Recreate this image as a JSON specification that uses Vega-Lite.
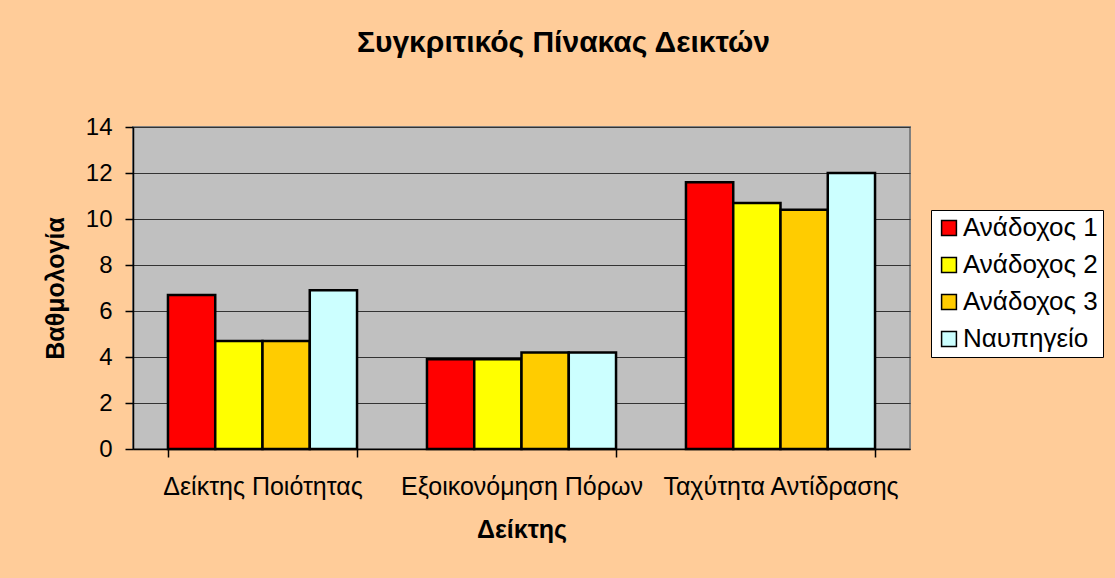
{
  "$schema": "https://vega.github.io/schema/vega-lite/v6.json",
  "width": 777,
  "height": 322,
  "autosize": {"type": "none"},
  "padding": {"left": 133, "top": 127, "right": 205, "bottom": 129},
  "background": "#FFCC99",
  "title": {
    "text": "Συγκριτικός Πίνακας Δεικτών",
    "font": "Liberation Sans",
    "fontSize": 30,
    "fontWeight": "bold",
    "color": "#000000",
    "anchor": "middle",
    "frame": "group",
    "dx": 42,
    "offset": 57
  },
  "data": {
    "values": [
      {"index": "Δείκτης Ποιότητας", "series": "Ανάδοχος 1", "value": 6.7},
      {"index": "Δείκτης Ποιότητας", "series": "Ανάδοχος 2", "value": 4.7},
      {"index": "Δείκτης Ποιότητας", "series": "Ανάδοχος 3", "value": 4.7},
      {"index": "Δείκτης Ποιότητας", "series": "Ναυπηγείο", "value": 6.9},
      {"index": "Εξοικονόμηση Πόρων", "series": "Ανάδοχος 1", "value": 3.9},
      {"index": "Εξοικονόμηση Πόρων", "series": "Ανάδοχος 2", "value": 3.9},
      {"index": "Εξοικονόμηση Πόρων", "series": "Ανάδοχος 3", "value": 4.2},
      {"index": "Εξοικονόμηση Πόρων", "series": "Ναυπηγείο", "value": 4.2},
      {"index": "Ταχύτητα Αντίδρασης", "series": "Ανάδοχος 1", "value": 11.6},
      {"index": "Ταχύτητα Αντίδρασης", "series": "Ανάδοχος 2", "value": 10.7},
      {"index": "Ταχύτητα Αντίδρασης", "series": "Ανάδοχος 3", "value": 10.4},
      {"index": "Ταχύτητα Αντίδρασης", "series": "Ναυπηγείο", "value": 12.0}
    ]
  },
  "mark": {"type": "bar", "stroke": "#000000", "strokeWidth": 2.5},
  "encoding": {
    "x": {
      "field": "index",
      "type": "nominal",
      "sort": null,
      "scale": {"paddingInner": 0.27, "paddingOuter": 0.135},
      "axis": {
        "title": "Δείκτης",
        "labelAngle": 0,
        "labelLimit": 0,
        "tickBand": "extent",
        "tickSize": 8,
        "labelPadding": 17,
        "titlePadding": 18
      }
    },
    "xOffset": {"field": "series", "type": "nominal", "sort": null, "scale": {"paddingInner": 0, "paddingOuter": 0}},
    "y": {
      "field": "value",
      "type": "quantitative",
      "scale": {"domain": [0, 14], "nice": false},
      "axis": {
        "title": "Βαθμολογία",
        "values": [0, 2, 4, 6, 8, 10, 12, 14],
        "grid": true,
        "tickSize": 8,
        "labelPadding": 13,
        "labelFontSize": 24,
        "titlePadding": 17
      }
    },
    "color": {
      "field": "series",
      "type": "nominal",
      "sort": null,
      "scale": {
        "domain": ["Ανάδοχος 1", "Ανάδοχος 2", "Ανάδοχος 3", "Ναυπηγείο"],
        "range": ["#FF0000", "#FFFF00", "#FFCC00", "#CCFFFF"]
      },
      "legend": {
        "title": null,
        "orient": "none",
        "legendX": 798,
        "legendY": 83,
        "symbolType": "square",
        "symbolSize": 220,
        "symbolStrokeColor": "#000000",
        "symbolStrokeWidth": 1.5,
        "symbolOpacity": 1,
        "labelFont": "Liberation Sans",
        "labelFontSize": 26,
        "labelLimit": 0,
        "labelColor": "#000000",
        "fillColor": "#FFFFFF",
        "strokeColor": "#000000",
        "padding": 5,
        "rowPadding": 11,
        "labelOffset": 1
      }
    }
  },
  "config": {
    "view": {"fill": "#C0C0C0", "stroke": "#808080", "strokeWidth": 2},
    "axis": {
      "labelFont": "Liberation Sans",
      "labelFontSize": 25,
      "labelColor": "#000000",
      "titleFont": "Liberation Sans",
      "titleFontSize": 25,
      "titleFontWeight": "bold",
      "titleColor": "#000000",
      "domainColor": "#000000",
      "domainWidth": 1.5,
      "tickColor": "#000000",
      "tickWidth": 1.5,
      "gridColor": "#333333",
      "gridWidth": 1,
      "gridOpacity": 1
    }
  }
}
